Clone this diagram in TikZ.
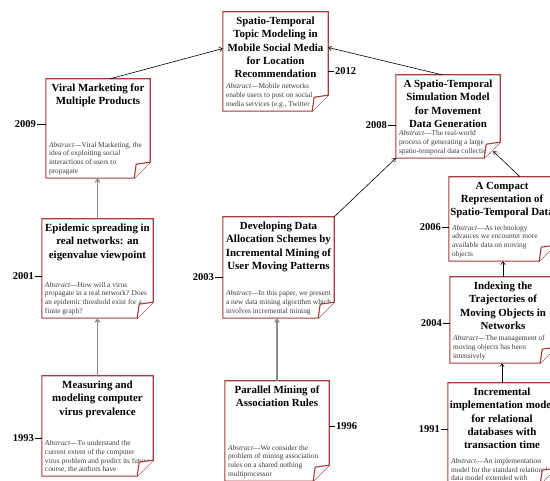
\documentclass[tikz,border=0pt]{standalone}
\usepackage{fontspec}
\setmainfont{Liberation Serif}
\usepackage{xcolor}
\usepackage{tikz}
\usetikzlibrary{arrows.meta,positioning,calc}
\definecolor{cardred}{HTML}{A33B3B}
\definecolor{absgray}{HTML}{3A3A3A}
\definecolor{linkgray}{HTML}{8C8C8C}

% one paper card: name, centre, width, height, title, abstract
\newcommand\notecard[6]{%
  \node[cardbox,minimum width=#3,minimum height=#4] (#1) at (#2) {};
  \node[cardtitle,below=5pt of #1.north] (#1-t) {#5};
  \node[cardabs,above right=3pt and 3pt of #1.south west] (#1-a) {#6};
  \fill[white] ([yshift=16pt]#1.south east) -- ([xshift=6pt,yshift=16pt]#1.south east)
       -- ([xshift=6pt,yshift=-2pt]#1.south east) -- ([xshift=-16pt]#1.south east) -- cycle;
  \draw[cardline] (#1.north west) -- (#1.north east) -- ([yshift=16pt]#1.south east)
       -- ([xshift=-16pt]#1.south east) -- (#1.south west) -- cycle;
  \filldraw[cardline,fill=white] ([yshift=16pt]#1.south east)
       -- ([xshift=-14pt,yshift=14pt]#1.south east) -- ([xshift=-16pt]#1.south east);
}

\begin{document}
\begin{tikzpicture}[x=1pt,y=-1pt,
    cardbox/.style={inner sep=0pt},
    cardline/.style={draw=cardred,line width=1.1pt,line join=miter},
    cardtitle/.style={inner sep=0pt,align=center,
      font=\fontsize{10.9}{13.3}\selectfont\bfseries},
    cardabs/.style={inner sep=0pt,align=left,text=absgray,
      font=\fontsize{7.4}{8.8}\selectfont},
    yearlabel/.style={inner sep=1pt,font=\fontsize{10.5}{12}\selectfont\bfseries},
    yeardash/.style={line width=0.8pt},
    newlink/.style={-{Straight Barb[length=3pt,width=4.5pt]},line width=0.6pt},
    oldlink/.style={-{Straight Barb[length=3pt,width=4.5pt]},linkgray,line width=1.3pt}]
  \useasboundingbox (0,0) rectangle (550,481);
  \clip (0,0) rectangle (550,481);

  % left column
  \notecard{v}{98,128.5}{104pt}{99pt}{Viral Marketing for\\Multiple Products}
    {\textit{Abstract}---Viral Marketing, the\\idea of exploiting social\\interactions of users to\\propagate}
  \notecard{e}{97.5,268.5}{111pt}{99pt}{Epidemic spreading in\\real networks: an\\eigenvalue viewpoint}
    {\textit{Abstract}---How will a virus\\propagate in a real network? Does\\an epidemic threshold exist for a\\finite graph?}
  \notecard{m}{97.5,426}{111pt}{100pt}{Measuring and\\modeling computer\\virus prevalence}
    {\textit{Abstract}---To understand the\\current extent of the computer\\virus problem and predict its future\\course, the authors have}

  % middle column
  \notecard{t}{275.5,61.5}{105pt}{99pt}{Spatio-Temporal\\Topic Modeling in\\Mobile Social Media\\for Location\\Recommendation}
    {\textit{Abstract}---Mobile networks\\enable users to post on social\\media services (e.g., Twitter}
  \notecard{d}{278.5,267.5}{111pt}{101pt}{Developing Data\\Allocation Schemes by\\Incremental Mining of\\User Moving Patterns}
    {\textit{Abstract}---In this paper, we present\\a new data mining algorithm which\\involves incremental mining}
  \notecard{p}{277,431}{104pt}{100pt}{Parallel Mining of\\Association Rules}
    {\textit{Abstract}---We consider the\\problem of mining association\\rules on a shared nothing\\multiprocessor}

  % right column
  \notecard{s}{448,116.5}{104pt}{83pt}{A Spatio-Temporal\\Simulation Model\\for Movement\\Data Generation}
    {\textit{Abstract}---The real-world\\process of generating a large\\spatio-temporal data collection}
  \notecard{c}{502,219}{106pt}{84pt}{A Compact\\Representation of\\Spatio-Temporal Data}
    {\textit{Abstract}---As technology\\advances we encounter more\\available data on moving\\objects}
  \notecard{i}{503,320}{106pt}{86pt}{Indexing the\\Trajectories of\\Moving Objects in\\Networks}
    {\textit{Abstract}---The management of\\moving objects has been\\intensively}
  \notecard{n}{502,433.5}{108pt}{101pt}{Incremental\\implementation model\\for relational\\databases with\\transaction time}
    {\textit{Abstract}---An implementation\\model for the standard relational\\data model extended with}

  % years
  \node[yearlabel,anchor=east] (y2009) at (37,124) {2009};
  \node[yearlabel,anchor=east] (y2001) at (35,276) {2001};
  \node[yearlabel,anchor=east] (y1993) at (35,438) {1993};
  \node[yearlabel,anchor=east] (y2003) at (215,277) {2003};
  \node[yearlabel,anchor=east] (y2008) at (388,125) {2008};
  \node[yearlabel,anchor=east] (y2006) at (442,227) {2006};
  \node[yearlabel,anchor=east] (y2004) at (443,323) {2004};
  \node[yearlabel,anchor=east] (y1991) at (441,429) {1991};
  \node[yearlabel,anchor=west] (y2012) at (334,71) {2012};
  \node[yearlabel,anchor=west] (y1996) at (335,426) {1996};
  \foreach \yr/\card in {2009/v,2001/e,1993/m,2003/d,2008/s,2006/c,2004/i,1991/n}
    \draw[yeardash] (y\yr.east) -- (y\yr.east -| \card.west);
  \foreach \yr/\card in {2012/t,1996/p}
    \draw[yeardash] (\card.east |- y\yr.west) -- (y\yr.west);

  % citations
  \draw[oldlink] (e.north) -- (e.north |- v.south);
  \draw[oldlink] (m.north) -- (m.north |- e.south);
  \draw[oldlink] (p.north) -- (p.north |- d.south);
  \draw[newlink] ([xshift=12pt]v.north) -- ([yshift=13pt]t.west);
  \draw[newlink] ([xshift=-6pt]s.north) -- ([yshift=14pt]t.east);
  \draw[newlink] (d.north east) -- (s.south west);
  \draw[newlink] ([xshift=18pt]c.north) -- ([xshift=-7pt,yshift=7pt]s.south east);
  \draw[newlink] (i.north) -- (i.north |- c.south);
  \draw[newlink] (n.north) -- (n.north |- i.south);
\end{tikzpicture}
\end{document}
